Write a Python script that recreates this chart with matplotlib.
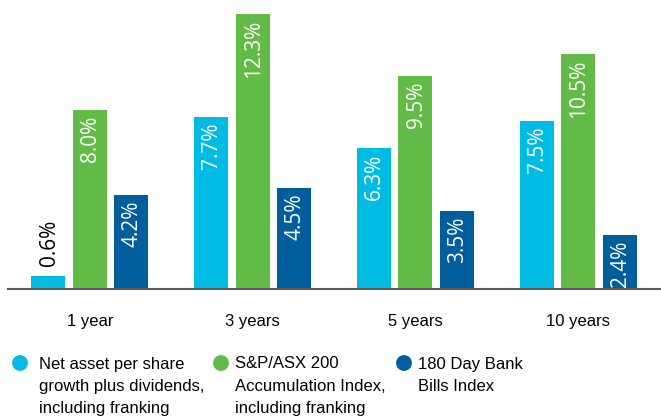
import numpy as np
import matplotlib
matplotlib.use("Agg")
import matplotlib.pyplot as plt

# periods and returns (% p.a.)
periods = ["1 year", "3 years", "5 years", "10 years"]
net_asset = [0.6, 7.7, 6.3, 7.5]
asx200 = [8.0, 12.3, 9.5, 10.5]
bank_bills = [4.2, 4.5, 3.5, 2.4]

series_names = [
    ["Net asset per share", "growth plus dividends,", "including franking"],
    ["S&P/ASX 200", "Accumulation Index,", "including franking"],
    ["180 Day Bank", "Bills Index"],
]
colors = ["#00BCE4", "#62BB46", "#005E9E"]

W, H = 661, 416
fig = plt.figure(figsize=(W / 100, H / 100), dpi=100)
ax = fig.add_axes([8 / W, (H - 289) / H, (W - 8) / W, 289 / H])

x = np.arange(len(periods))
width = 0.209
step = 0.255
all_series = [net_asset, asx200, bank_bills]

for i, (vals, col) in enumerate(zip(all_series, colors)):
    pos = x + (i - 1) * step
    ax.bar(pos, vals, width=width, color=col, edgecolor="none")
    for p, v in zip(pos, vals):
        lbl = f"{v:.1f}%"
        if v < 2:
            ax.annotate(lbl, (p, v), xytext=(0.5, 7), textcoords="offset points",
                        rotation=90, ha="center", va="bottom", color="black",
                        fontsize=15, family="Open Sans")
        else:
            ax.annotate(lbl, (p, v), xytext=(0.5, -4), textcoords="offset points",
                        rotation=90, ha="center", va="top", color="white",
                        fontsize=15, family="Open Sans")

ax.set_xlim(-0.503, 3.509)
ax.set_ylim(0, 12.92)
for s in ["top", "right", "left"]:
    ax.spines[s].set_visible(False)
ax.spines["bottom"].set_color("#595959")
ax.spines["bottom"].set_linewidth(1.5)
ax.set_yticks([])
ax.set_xticks(x)
ax.set_xticklabels(periods, fontsize=12, family="Liberation Sans")
ax.tick_params(axis="x", length=0, pad=18)

# legend drawn by hand below the axis
leg = fig.add_axes([0, 0, 1, 1], zorder=-1)
leg.set_xlim(0, W)
leg.set_ylim(H, 0)
leg.axis("off")
marker_x = [20, 221, 404]
text_x = [39, 235, 418]
for mx, tx, col, lines in zip(marker_x, text_x, colors, series_names):
    leg.scatter([mx], [363], s=130, color=col, edgecolors="none")
    for j, line in enumerate(lines):
        leg.text(tx, 364 + j * 22.5, line, fontsize=12, family="Liberation Sans",
                 va="center", ha="left", color="black")

fig.savefig("out.png", dpi=100)
